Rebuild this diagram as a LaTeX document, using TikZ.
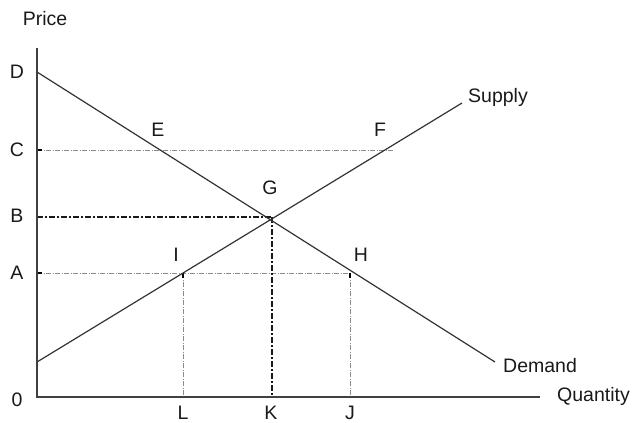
\documentclass[tikz,border=0pt]{standalone}
\usepackage{fontspec}
\setmainfont{Liberation Sans}
\begin{document}
\begin{tikzpicture}[x=1pt,y=-1pt,
  lbl/.style={font=\fontsize{19.5}{21}\selectfont, text=black!90, inner sep=0pt},
  curve/.style={draw=black!80, line width=1.2pt},
  axis/.style={draw=black!75, line width=1.4pt},
  lightdash/.style={draw=black!45, line width=0.9pt, dash pattern=on 5pt off 1.5pt on 1pt off 1.5pt},
  bolddash/.style={draw=black!90, line width=2.2pt, dash pattern=on 6pt off 2pt on 2pt off 2pt},
  tick/.style={draw=black, line width=2.2pt}]
\useasboundingbox (0,0) rectangle (633,423);
% coordinates
\coordinate (O) at (37,397);
\coordinate (Ytop) at (37,48);
\coordinate (Xend) at (540,397);
\coordinate (Dst) at (37,72);
\coordinate (Den) at (495,362);
\coordinate (Sst) at (37,362);
\coordinate (Sen) at (462,103);
\coordinate (Cy) at (37,150);
\coordinate (Cend) at (393,150);
\coordinate (By) at (37,217);
\coordinate (Ay) at (37,273);
\coordinate (Gp) at (272,217);
\coordinate (Ip) at (183,273);
\coordinate (Hp) at (350,273);
\coordinate (Lx) at (183,397);
\coordinate (Kx) at (272,397);
\coordinate (Jx) at (350,397);
% guide lines
\draw[lightdash] (Cy) -- (Cend);
\draw[lightdash] (Ay) -- (Hp);
\draw[lightdash] (Ip) -- (Lx);
\draw[lightdash] (Hp) -- (Jx);
\draw[bolddash] (By) -- (Gp);
\draw[bolddash] (Gp) -- (Kx);
% ticks
\draw[tick] (Cy) -- ++(5,0);
\draw[tick] (Ay) -- ++(5,0);
\draw[tick] (Ip) -- ++(0,5);
\draw[tick] (Hp) -- ++(0,5);
% curves
\draw[curve] (Dst) -- (Den);
\draw[curve] (Sst) -- (Sen);
% axes
\draw[axis] (Ytop) -- (O) -- (Xend);
% labels
\node[lbl] (price) at (45,19) {Price};
\node[lbl] (D) at (17,72) {D};
\node[lbl] (C) at (17,150) {C};
\node[lbl] (B) at (17,216) {B};
\node[lbl] (A) at (17,273) {A};
\node[lbl] (zero) at (17,400) {0};
\node[lbl] (E) at (158,130) {E};
\node[lbl] (F) at (380,130) {F};
\node[lbl] (G) at (270,188) {G};
\node[lbl] (I) at (176,255) {I};
\node[lbl] (H) at (361,255) {H};
\node[lbl] (L) at (183,413) {L};
\node[lbl] (K) at (271,413) {K};
\node[lbl] (J) at (350,413) {J};
\node[lbl,anchor=west] (supply) at (468,97) {Supply};
\node[lbl,anchor=west] (demand) at (503,366) {Demand};
\node[lbl,anchor=west] (quantity) at (557,396) {Quantity};
\end{tikzpicture}
\end{document}
